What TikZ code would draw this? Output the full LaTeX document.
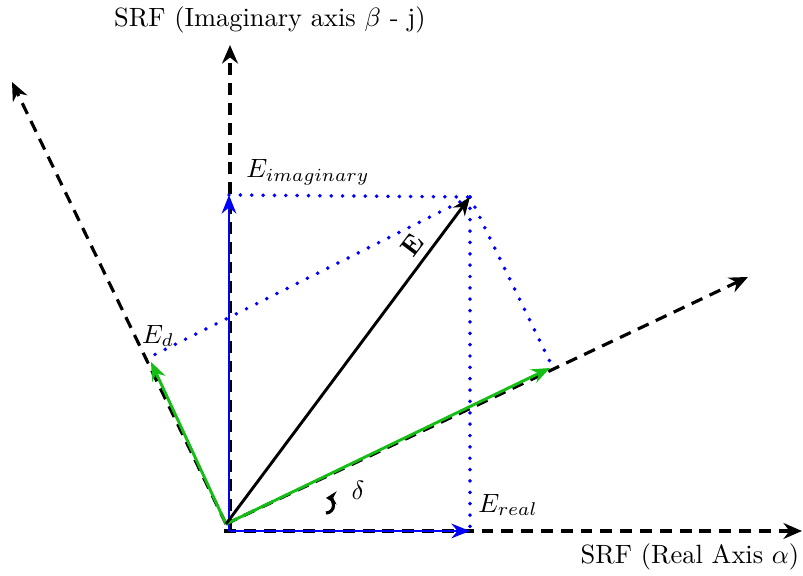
\documentclass[tikz,border=0pt]{standalone}
\usepackage{amsmath, amssymb}
\usepackage{tikz}
\usetikzlibrary{arrows.meta, positioning, calc}
\definecolor{vgreen}{RGB}{20, 190, 20}
\begin{document}
\begin{tikzpicture}[x=0.0133cm, y=0.0133cm,
  axis/.style={black, line width=1.2pt, dash pattern=on 4.5pt off 3pt, -{Stealth[length=7pt, width=6pt]}},
  vec/.style={line width=1.1pt, -{Stealth[length=7pt, width=5.5pt]}},
  proj/.style={blue, line width=1.5pt, line cap=round, dash pattern=on 0pt off 4.3pt}]
  \useasboundingbox (-226,-52) rectangle (577,524);
  % origins and axis ends
  \coordinate (O) at (0,0);
  \coordinate (Ob) at (3,-7);
  \coordinate (Oh) at (-2,-7);
  \coordinate (Ov) at (4,-7);
  \coordinate (re) at (576,-7);
  \coordinate (im) at (4,479);
  \coordinate (q) at (522,247);
  \coordinate (d) at (-214,442);
  % vector tips
  \coordinate (Et) at (244,327);
  \coordinate (Er) at (244,-7);
  \coordinate (Ei) at (3,329);
  \coordinate (Eq) at (324,156);
  \coordinate (Eqd) at (326,158);
  \coordinate (Ed) at (-75,162);
  \coordinate (Edd) at (-80,165);
  \coordinate (dl) at (100,11);
  % axes
  \draw[axis] (Oh) -- (re);
  \draw[axis] (Ov) -- (im);
  \draw[axis] (O) -- (q);
  \draw[axis] (O) -- (d);
  % projections
  \draw[proj] (Ei) -- (Et);
  \draw[proj] (Et) -- (Er);
  \draw[proj] (Et) -- (Eqd);
  \draw[proj] (Et) -- (Edd);
  % vectors
  \draw[vec, blue] (Ob) -- (Er);
  \draw[vec, blue] (Ob) -- (Ei);
  \draw[vec, vgreen] (O) -- (Eq);
  \draw[vec, vgreen] (O) -- (Ed);
  \draw[vec, black] (O) -- (Et);
  \draw[line width=1.2pt, -{Stealth[length=4pt, width=5pt]}] (dl) arc[start angle=-90, end angle=90, radius=0.1cm];
  % labels
  \node (lim) at (44,504) {SRF (Imaginary axis $\beta$ - j)};
  \node (lre) at (464,-33) {SRF (Real Axis $\alpha$)};
  \node (lEi) at (82,352) {$E_{imaginary}$};
  \node[rotate=53] (lE) at (186,279) {$\mathbf{E}$};
  \node (lEd) at (-68,188) {$E_d$};
  \node (ldelta) at (132,34) {$\delta$};
  \node (lEr) at (282,19) {$E_{real}$};
\end{tikzpicture}
\end{document}
